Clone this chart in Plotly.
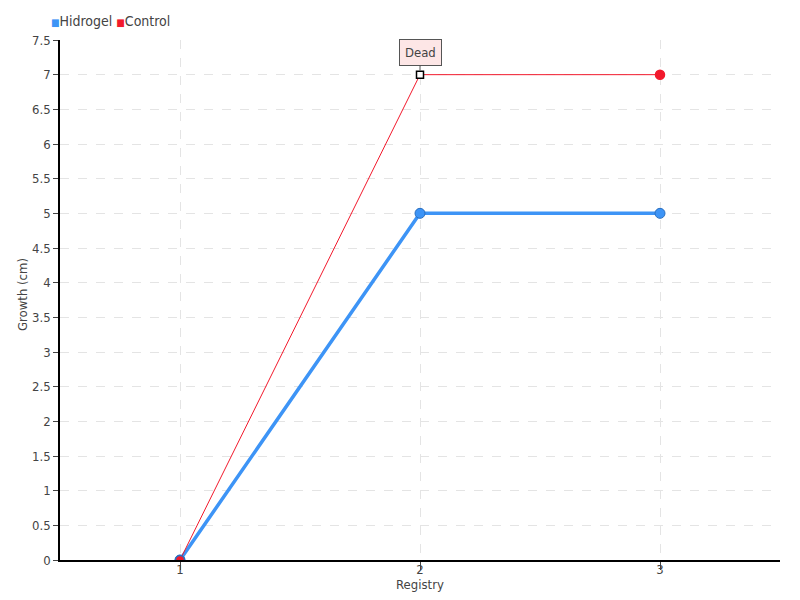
import plotly.graph_objects as go

registry = [1, 2, 3]
hidrogel = [0, 5, 5]
control = [0, 7, 7]
series_names = ["Hidrogel", "Control"]
y_ticks = [0, 0.5, 1, 1.5, 2, 2.5, 3, 3.5, 4, 4.5, 5, 5.5, 6, 6.5, 7, 7.5]
y_tick_labels = ["0", "0.5", "1", "1.5", "2", "2.5", "3", "3.5", "4", "4.5", "5", "5.5", "6", "6.5", "7", "7.5"]
dead_index = 1
x_title = "Registry"
y_title = "Growth (cm)"

BLUE = "#3d94f6"
RED = "#f2192c"
FONT = "DejaVu Sans Condensed, Roboto, sans-serif"

fig = go.Figure()

fig.add_trace(go.Scatter(
    x=registry, y=hidrogel, mode="lines+markers", name=series_names[0],
    line=dict(color=BLUE, width=3.5),
    marker=dict(size=10, color=BLUE, line=dict(color="#2a6fc0", width=1)),
    showlegend=False,
))
ctrl_symbols = ["circle"] * len(registry)
ctrl_colors = [RED] * len(registry)
ctrl_lines = [RED] * len(registry)
ctrl_sizes = [9] * len(registry)
ctrl_symbols[dead_index] = "square"
ctrl_colors[dead_index] = "white"
ctrl_lines[dead_index] = "black"
ctrl_sizes[dead_index] = 7
ctrl_lines[0] = "#2a6fc0"
fig.add_trace(go.Scatter(
    x=registry, y=control, mode="lines+markers", name=series_names[1],
    line=dict(color=RED, width=1),
    marker=dict(size=ctrl_sizes, color=ctrl_colors, symbol=ctrl_symbols,
                line=dict(color=ctrl_lines, width=1.5), opacity=1),
    showlegend=False,
))

# compact legend drawn as text
legend_text = (
    f"<span style='color:{BLUE};font-size:10px'>■</span>{series_names[0]} "
    f"<span style='color:{RED};font-size:10px'>■</span>{series_names[1]}"
)
fig.add_annotation(
    xref="paper", yref="paper", x=-0.015, y=1.0, xanchor="left", yanchor="middle",
    yshift=19, text=legend_text, showarrow=False,
    font=dict(family=FONT, size=14, color="#444"),
)

# y axis title
fig.add_annotation(
    xref="paper", yref="paper", x=0, y=0.5, xshift=-38, yshift=5,
    xanchor="center", yanchor="middle",
    text=y_title, textangle=-90, showarrow=False,
    font=dict(family=FONT, size=13, color="#444"),
)

fig.add_annotation(
    x=registry[dead_index], y=control[dead_index], text="Dead",
    showarrow=True, arrowhead=0, arrowwidth=1, arrowcolor="#555",
    ax=0, ay=-22, standoff=4,
    bgcolor="#fde6e6", bordercolor="#555", borderwidth=1, borderpad=5,
    font=dict(family=FONT, size=13, color="#444"),
)

fig.update_layout(
    width=800, height=600,
    margin=dict(l=60, r=20, t=40, b=40, autoexpand=False),
    paper_bgcolor="white", plot_bgcolor="white",
    font=dict(family=FONT, size=13, color="#444"),
    showlegend=False,
    xaxis=dict(
        range=[0.5, 3.5], tickvals=registry, ticktext=[str(r) for r in registry],
        showgrid=True, gridcolor="#e4e4e4", griddash="dash",
        showline=True, linecolor="black", linewidth=1.5,
        ticks="outside", ticklen=8, tickcolor="#444",
        ticklabelstandoff=-11,
        zeroline=False, automargin=False,
        tickfont=dict(size=13),
        title=dict(text=x_title, standoff=0, font=dict(family=FONT, size=13, color="#444")),
    ),
    yaxis=dict(
        range=[0, 7.5], tickvals=y_ticks, ticktext=y_tick_labels,
        showgrid=True, gridcolor="#e4e4e4", griddash="dash",
        showline=True, linecolor="black", linewidth=1.5,
        ticks="outside", ticklen=5, tickcolor="#444",
        zeroline=False, automargin=False,
    ),
)

fig.write_html("out.html", post_script="document.body.style.margin='0';",
               config={"displayModeBar": False})
